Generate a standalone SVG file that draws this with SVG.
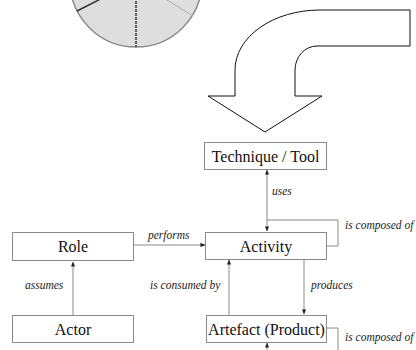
<svg xmlns="http://www.w3.org/2000/svg" width="416" height="350" viewBox="0 0 416 350">
  <style>
    .box { fill: #ffffff; stroke: #8a8a8a; stroke-width: 1; }
    .name { font-family: 'Liberation Serif', 'Times New Roman', 'DejaVu Serif', serif; font-size: 16px; fill: #111; text-anchor: middle; }
    .rel { font-family: 'Liberation Serif', 'Times New Roman', 'DejaVu Serif', serif; font-size: 11.5px; font-style: italic; fill: #222; }
    .conn { fill: none; stroke: #8a8a8a; stroke-width: 1; }
  </style>
  <defs>
    <marker id="tip" viewBox="0 0 6 6" refX="5.5" refY="3" markerWidth="5" markerHeight="5" orient="auto-start-reverse" markerUnits="userSpaceOnUse">
      <path d="M0,0.5 L6,3 L0,5.5 Z" fill="#222"/>
    </marker>
  </defs>
  <rect width="416" height="350" fill="#ffffff"/>

  <!-- pie chart, mostly cut off at the top edge -->
  <g id="pie">
    <circle cx="136" cy="-19" r="66" fill="#dedede" stroke="#8c8c8c" stroke-width="1.5"/>
    <line x1="136" y1="-19" x2="136" y2="47" stroke="#333" stroke-width="1.5" stroke-dasharray="3 1"/>
    <line x1="136" y1="-19" x2="77" y2="11" stroke="#333" stroke-width="1.5"/>
    <line x1="136" y1="-19" x2="193" y2="16" stroke="#b0b0b0" stroke-width="1"/>
  </g>

  <!-- large bent arrow -->
  <g id="bent-arrow">
    <path d="M410,10 L320,10 A85,60 0 0 0 235,70 L235,96 L208,96 L265,132 L322,96 L295,96 L295,70 A22,24 0 0 1 317,46 L410,46 Z" fill="#ffffff" stroke="#111" stroke-width="1"/>
  </g>

  <g id="connectors">
    <!-- uses -->
    <line class="conn" x1="267" y1="170" x2="267" y2="231" marker-start="url(#tip)" marker-end="url(#tip)"/>
    <!-- Activity is composed of -->
    <polyline class="conn" points="267,220 338,220 338,246 327,246"/>
    <!-- performs -->
    <line class="conn" x1="134" y1="245" x2="205" y2="245" marker-end="url(#tip)"/>
    <!-- assumes -->
    <line class="conn" x1="73" y1="315" x2="73" y2="262" marker-end="url(#tip)"/>
    <!-- is consumed by -->
    <line class="conn" x1="229" y1="315" x2="229" y2="260" marker-end="url(#tip)"/>
    <!-- produces -->
    <line class="conn" x1="304" y1="259" x2="304" y2="314" marker-end="url(#tip)"/>
    <!-- Artefact is composed of -->
    <polyline class="conn" points="327,328 338,328 338,350"/>
    <line class="conn" x1="267" y1="352" x2="267" y2="343" marker-end="url(#tip)"/>
  </g>

  <g id="labels">
    <text class="rel" x="272" y="195">uses</text>
    <text class="rel" x="345" y="229">is composed of</text>
    <text class="rel" x="148" y="239">performs</text>
    <text class="rel" x="25" y="289">assumes</text>
    <text class="rel" x="150" y="289">is consumed by</text>
    <text class="rel" x="311" y="289">produces</text>
    <text class="rel" x="345" y="341">is composed of</text>
  </g>

  <g id="technique-tool">
    <rect class="box" x="204.5" y="142.5" width="122" height="27"/>
    <text class="name" x="265.5" y="161.5">Technique / Tool</text>
  </g>
  <g id="activity">
    <rect class="box" x="205.5" y="232.5" width="121" height="27"/>
    <text class="name" x="266" y="251.5">Activity</text>
  </g>
  <g id="role">
    <rect class="box" x="12.5" y="232.5" width="121" height="28"/>
    <text class="name" x="73" y="252">Role</text>
  </g>
  <g id="actor">
    <rect class="box" x="12.5" y="315.5" width="121" height="27"/>
    <text class="name" x="73" y="334.5">Actor</text>
  </g>
  <g id="artefact">
    <rect class="box" x="206.5" y="315.5" width="120" height="27"/>
    <text class="name" x="266.5" y="334.5">Artefact (Product)</text>
  </g>
</svg>
